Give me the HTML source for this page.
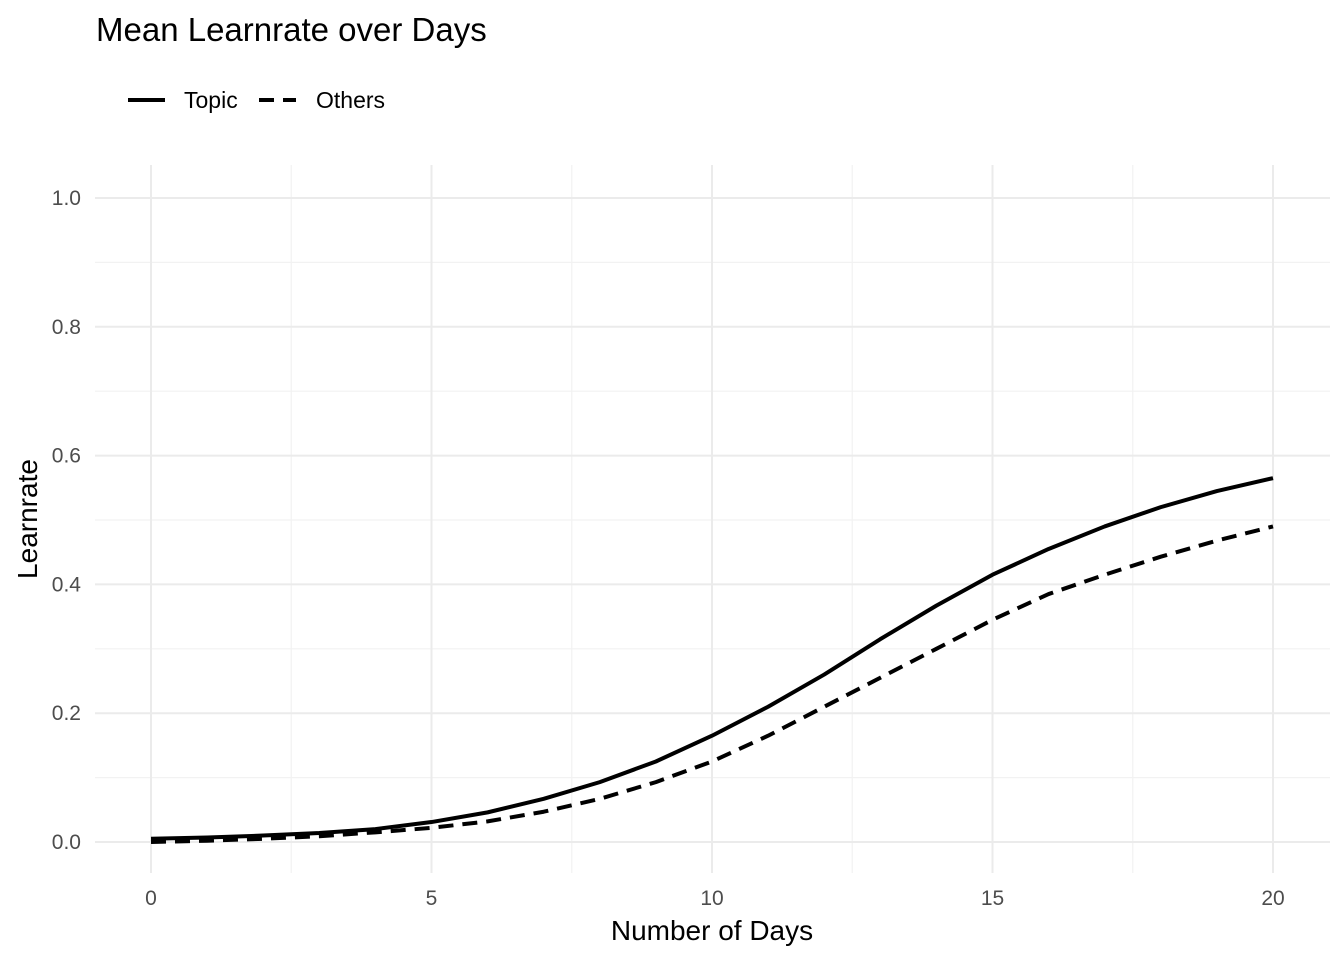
<!DOCTYPE html>
<html><head><meta charset="utf-8"><style>body{margin:0;background:#fff}svg{display:block;font-family:"Liberation Sans",Arial,sans-serif}</style></head>
<body>
<svg id="chart" width="1344" height="960" viewBox="0 0 1344 960" xmlns="http://www.w3.org/2000/svg">
<text x="96" y="41" font-size="33" fill="#000">Mean Learnrate over Days</text>
<g>
<line x1="128" y1="100" x2="165" y2="100" stroke="#000" stroke-width="4"/>
<text x="184" y="108" font-size="23">Topic</text>
<line x1="259" y1="100" x2="296" y2="100" stroke="#000" stroke-width="4" stroke-dasharray="15,9"/>
<text x="316" y="108" font-size="23">Others</text>
</g>
<g id="grid"></g>
<g id="series"></g>
<g id="axes"></g>
<text x="712" y="940" font-size="28" text-anchor="middle">Number of Days</text>
<text transform="translate(37,519) rotate(-90)" font-size="28" text-anchor="middle">Learnrate</text>
</svg>
<script>
const days=[0,1,2,3,4,5,6,7,8,9,10,11,12,13,14,15,16,17,18,19,20];
const topicVals=[0.005,0.007,0.010,0.014,0.020,0.031,0.046,0.067,0.093,0.125,0.165,0.210,0.260,0.315,0.367,0.415,0.455,0.490,0.520,0.545,0.565];
const othersVals=[0.000,0.002,0.005,0.009,0.015,0.022,0.032,0.047,0.067,0.093,0.125,0.165,0.210,0.255,0.300,0.345,0.385,0.415,0.443,0.468,0.490];
const xTicks=[0,5,10,15,20];
const yTicks=[0,0.2,0.4,0.6,0.8,1.0];
const yTickLabels=["0.0","0.2","0.4","0.6","0.8","1.0"];
const NS="http://www.w3.org/2000/svg";
const xs=d=>151+d*(1273-151)/20;
const ys=v=>842-v*644;
const L=95,R=1330,T=165,B=873;
function mk(tag,attrs,parent){const e=document.createElementNS(NS,tag);for(const k in attrs)e.setAttribute(k,attrs[k]);parent.appendChild(e);return e;}
const grid=document.getElementById('grid'),axes=document.getElementById('axes'),series=document.getElementById('series');
for(let i=0;i<yTicks.length-1;i++){const v=(yTicks[i]+yTicks[i+1])/2;
 const l=mk('line',{x1:L,x2:R,y1:ys(v),y2:ys(v),stroke:'#f2f2f2','stroke-width':1.2},grid);
 }
for(let i=0;i<xTicks.length-1;i++){const v=(xTicks[i]+xTicks[i+1])/2;
 const l=mk('line',{x1:xs(v),x2:xs(v),y1:T,y2:B,stroke:'#f2f2f2','stroke-width':1.2},grid);
 }
yTicks.forEach((v,i)=>{const l=mk('line',{x1:L,x2:R,y1:ys(v),y2:ys(v),stroke:'#ebebeb','stroke-width':2},grid);
 
 const t=mk('text',{x:81,y:ys(v)+7,'font-size':21,fill:'#4d4d4d','text-anchor':'end'},axes);t.textContent=yTickLabels[i];
 });
xTicks.forEach(v=>{const l=mk('line',{x1:xs(v),x2:xs(v),y1:T,y2:B,stroke:'#ebebeb','stroke-width':2},grid);
 
 const t=mk('text',{x:xs(v),y:905,'font-size':21,fill:'#4d4d4d','text-anchor':'middle'},axes);t.textContent=v;
 });
function line(vals,dash,name){const d=days.map((x,i)=>(i?'L':'M')+xs(x)+','+ys(vals[i])).join(' ');
 const p=mk('path',{d:d,fill:'none',stroke:'#000','stroke-width':4,'stroke-linejoin':'round'},series);
 if(dash)p.setAttribute('stroke-dasharray',dash);
 }
line(othersVals,'15,9','line-others');
line(topicVals,null,'line-topic');
</script>
</body></html>
